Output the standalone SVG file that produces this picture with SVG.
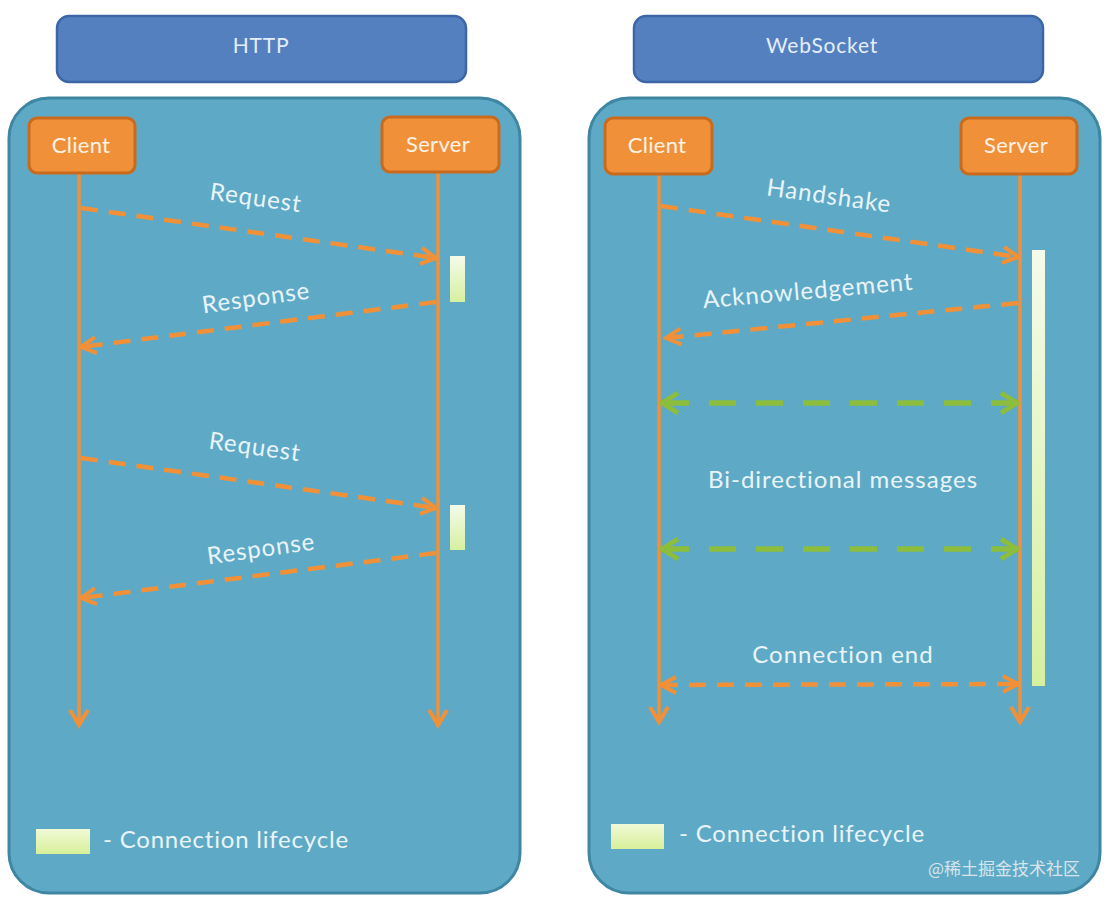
<svg xmlns="http://www.w3.org/2000/svg" width="1104" height="904" viewBox="0 0 1104 904">
<defs>
<style>
.hdr{fill:#5580c0;stroke:#3c66a6;stroke-width:2.5}
.panel{fill:#5eaac6;stroke:#3f86a2;stroke-width:3}
.actor{fill:#f0913a;stroke:#c96a1c;stroke-width:3}
.life{stroke:#f0913a;stroke-width:3.5;fill:none}
.msg{stroke:#f0913a;stroke-width:4.5;stroke-dasharray:17 11;fill:none}
.bi{stroke:#8cbd3c;stroke-width:5.5;stroke-dasharray:27 20;fill:none}
.t{font-family:Lato,"Open Sans","Liberation Sans",sans-serif;fill:#eaf4f8}
.ht{font-size:21px;fill:#e4eef8;letter-spacing:0.8px}
.at{font-size:22px;fill:#fff3e6;letter-spacing:0.3px}
.lt{font-size:24px;letter-spacing:1px}
.lg{font-size:24px;letter-spacing:0.8px}
.bar{fill:url(#g)}
</style>
<linearGradient id="g" x1="0" y1="0" x2="0" y2="1">
<stop offset="0" stop-color="#f4fbea"/>
<stop offset="1" stop-color="#d6f0a0"/>
</linearGradient>
<linearGradient id="g2" x1="0" y1="0" x2="0" y2="1">
<stop offset="0" stop-color="#f0f9d6"/>
<stop offset="1" stop-color="#d8f09a"/>
</linearGradient>
<marker id="ao" viewBox="0 0 22 22" refX="19" refY="11" markerWidth="22" markerHeight="22" markerUnits="userSpaceOnUse" orient="auto-start-reverse">
<path d="M4,3 L19,11 L4,19" fill="none" stroke="#f0913a" stroke-width="4"/>
</marker>
<marker id="ag" viewBox="0 0 26 26" refX="23" refY="13" markerWidth="26" markerHeight="26" markerUnits="userSpaceOnUse" orient="auto-start-reverse">
<path d="M7,3 L23,13 L7,23" fill="none" stroke="#8cbd3c" stroke-width="5"/>
</marker>
<marker id="al" viewBox="0 0 24 24" refX="20" refY="12" markerWidth="24" markerHeight="24" markerUnits="userSpaceOnUse" orient="auto">
<path d="M5,3 L20,12 L5,21" fill="none" stroke="#f0913a" stroke-width="4"/>
</marker>
</defs>
<rect width="1104" height="904" fill="#ffffff"/>

<g id="http-header"><rect class="hdr" x="57" y="16" width="409" height="66" rx="12"/><text class="t ht" x="261" y="53" text-anchor="middle">HTTP</text></g>
<g id="ws-header"><rect class="hdr" x="634" y="16" width="409" height="66" rx="12"/><text class="t ht" x="822" y="53" text-anchor="middle">WebSocket</text></g>

<g id="http-panel"><rect class="panel" x="9" y="98" width="511" height="795" rx="40"/></g>
<g id="ws-panel"><rect class="panel" x="589" y="98" width="511" height="795" rx="40"/></g>

<g id="connectors">
<line class="life" x1="79" y1="173" x2="79" y2="725" marker-end="url(#al)"/>
<line class="life" x1="438" y1="172" x2="438" y2="725" marker-end="url(#al)"/>
<line class="life" x1="659" y1="174" x2="659" y2="722" marker-end="url(#al)"/>
<line class="life" x1="1020" y1="174" x2="1020" y2="722" marker-end="url(#al)"/>
<line class="msg" x1="81" y1="208" x2="436" y2="258" marker-end="url(#ao)"/>
<line class="msg" x1="436" y1="302" x2="81" y2="347" marker-end="url(#ao)"/>
<line class="msg" x1="81" y1="458" x2="436" y2="508" marker-end="url(#ao)"/>
<line class="msg" x1="436" y1="553" x2="81" y2="598" marker-end="url(#ao)"/>
<line class="msg" x1="661" y1="206" x2="1018" y2="257" marker-end="url(#ao)"/>
<line class="msg" x1="1018" y1="303" x2="666" y2="338" marker-end="url(#ao)"/>
<line class="bi" x1="662" y1="403" x2="1017" y2="403" marker-start="url(#ag)" marker-end="url(#ag)"/>
<line class="bi" x1="662" y1="549" x2="1017" y2="549" marker-start="url(#ag)" marker-end="url(#ag)"/>
<line class="msg" x1="661" y1="685" x2="1018" y2="684" marker-start="url(#ao)" marker-end="url(#ao)"/>
</g>

<g id="http-client"><rect class="actor" x="29" y="118" width="106" height="55" rx="8"/><text class="t at" x="81" y="153" text-anchor="middle">Client</text></g>
<g id="http-server"><rect class="actor" x="382" y="117" width="117" height="55" rx="8"/><text class="t at" x="438" y="152" text-anchor="middle">Server</text></g>
<g id="ws-client"><rect class="actor" x="605" y="118" width="107" height="56" rx="8"/><text class="t at" x="657" y="153" text-anchor="middle">Client</text></g>
<g id="ws-server"><rect class="actor" x="961" y="118" width="116" height="56" rx="8"/><text class="t at" x="1016" y="153" text-anchor="middle">Server</text></g>

<g id="http-bar1"><rect class="bar" x="450" y="256" width="15" height="46"/></g>
<g id="http-bar2"><rect class="bar" x="450" y="505" width="15" height="45"/></g>
<g id="ws-bar"><rect class="bar" x="1032" y="250" width="13" height="436"/></g>

<g id="labels">
<text class="t lt" x="256" y="206" text-anchor="middle" transform="rotate(8 256 198)">Request</text>
<text class="t lt" x="256" y="306" text-anchor="middle" transform="rotate(-8 256 297)">Response</text>
<text class="t lt" x="255" y="455" text-anchor="middle" transform="rotate(8 255 446)">Request</text>
<text class="t lt" x="261" y="557" text-anchor="middle" transform="rotate(-8 261 548)">Response</text>
<text class="t lt" x="829" y="204" text-anchor="middle" transform="rotate(8 829 196)">Handshake</text>
<text class="t lt" x="808" y="299" text-anchor="middle" transform="rotate(-5 808 290)">Acknowledgement</text>
<text class="t lt" x="843" y="488" text-anchor="middle">Bi-directional messages</text>
<text class="t lt" x="843" y="663" text-anchor="middle">Connection end</text>
</g>

<g id="http-legend"><rect x="36" y="829" width="54" height="25" fill="url(#g2)"/><text class="t lg" x="103" y="848">- Connection lifecycle</text></g>
<g id="ws-legend"><rect x="611" y="824" width="53" height="25" fill="url(#g2)"/><text class="t lg" x="679" y="842">- Connection lifecycle</text></g>
<text x="1080" y="875" text-anchor="end" font-family="'Noto Sans CJK SC',sans-serif" font-size="17" fill="#d8e4ea">@稀土掘金技术社区</text>
</svg>
